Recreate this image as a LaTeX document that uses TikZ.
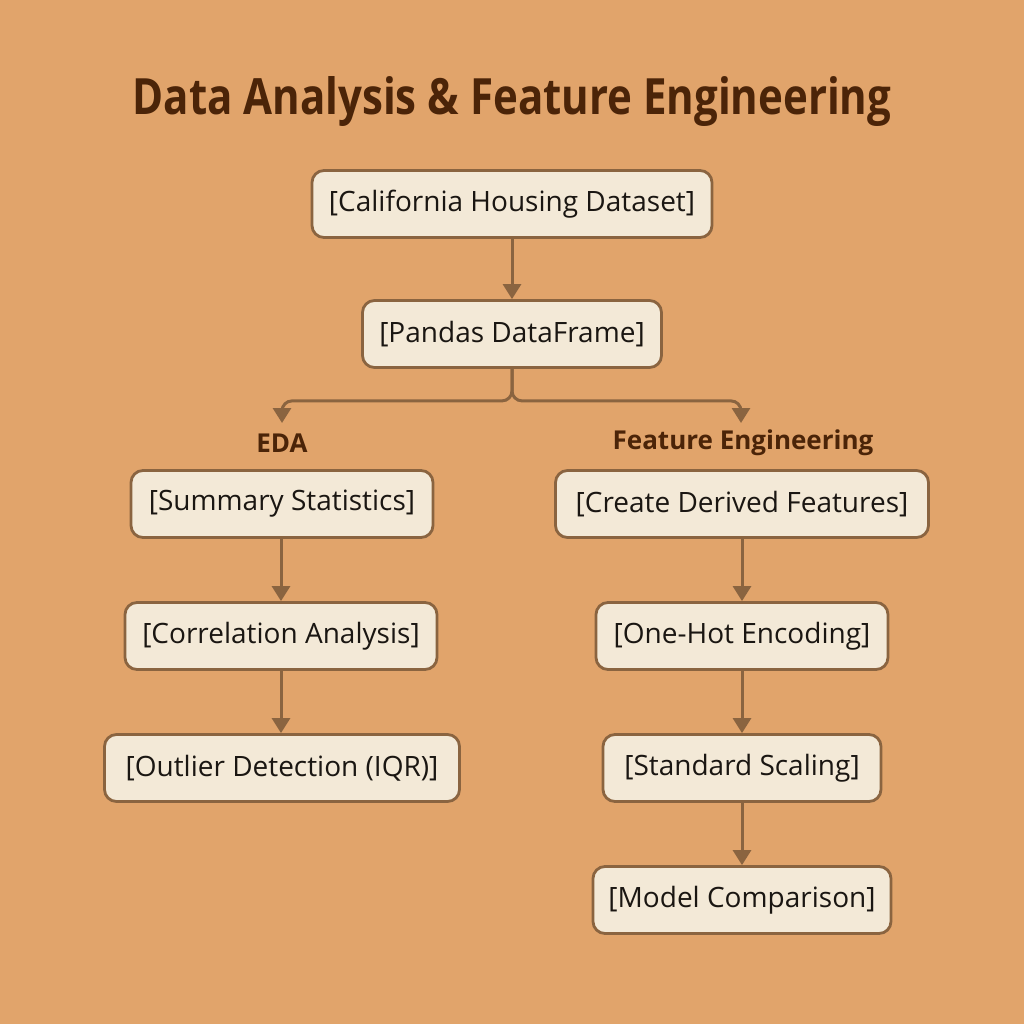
\documentclass[tikz,border=0pt]{standalone}
\usepackage{fontspec}
\setmainfont{Open Sans}
\newfontfamily\titlefont{Open Sans}[FakeStretch=0.84]
\usepackage{tikz}
\usetikzlibrary{arrows}
\usetikzlibrary{arrows.meta}
\usetikzlibrary{positioning}

\definecolor{bgtan}{HTML}{E1A46B}
\definecolor{boxfill}{HTML}{F3E9D7}
\definecolor{boxline}{HTML}{8A6440}
\definecolor{darkbrown}{HTML}{4B2408}
\definecolor{inkdark}{HTML}{1A1612}

\tikzset{
  stagebox/.style={draw=boxline, fill=boxfill, line width=2.8pt, rounded corners=12pt,
    minimum height=67pt, text=inkdark, font=\fontsize{28}{31}\selectfont},
  flow/.style={draw=boxline, line width=3pt, -{Triangle[length=15pt,width=18pt]}},
  branchlbl/.style={text=darkbrown, font=\fontsize{26}{29}\selectfont\bfseries},
}

\begin{document}
\begin{tikzpicture}[x=1pt,y=-1pt]
\fill[bgtan] (0,0) rectangle (1024,1024);
\useasboundingbox (0,0) rectangle (1024,1024);

\node[text=darkbrown, font=\titlefont\fontsize{50}{54}\selectfont\bfseries] (title) at (512,102) {Data Analysis \& Feature Engineering};

\node[stagebox, minimum width=400pt] (calif) at (512,204) {[California Housing Dataset]};
\node[stagebox, minimum width=299pt] (pandas) at (512,334) {[Pandas DataFrame]};

\path (282,423) coordinate (eda_tip);
\path (741,423) coordinate (fe_tip);
\node[branchlbl] (eda) at (282,443) {EDA};
\node[branchlbl] (fe) at (743,443) {Feature Engineering};

% EDA column
\node[stagebox, minimum width=302pt] (summary) at (282,504) {[Summary Statistics]};
\node[stagebox, minimum width=312pt] (corr) at (281,636) {[Correlation Analysis]};
\node[stagebox, minimum width=355pt] (outlier) at (282,768) {[Outlier Detection (IQR)]};

% feature engineering column
\node[stagebox, minimum width=373pt] (derived) at (742,504) {[Create Derived Features]};
\node[stagebox, minimum width=292pt] (onehot) at (742,636) {[One-Hot Encoding]};
\node[stagebox, minimum width=278pt] (scaling) at (742,768) {[Standard Scaling]};
\node[stagebox, minimum width=298pt] (model) at (742,900) {[Model Comparison]};

\draw[flow] (calif) -- (pandas);
\draw[flow, rounded corners=10pt] (pandas.south) -- ++(0,32) -| (eda_tip);
\draw[flow, rounded corners=10pt] (pandas.south) -- ++(0,32) -| (fe_tip);
\draw[flow] (summary.south -| corr.north) -- (corr.north);
\draw[flow] (corr) -- (corr |- outlier.north);
\draw[flow] (derived) -- (derived |- onehot.north);
\draw[flow] (onehot) -- (scaling);
\draw[flow] (scaling) -- (model);
%--------end----------
\end{tikzpicture}
\end{document}
